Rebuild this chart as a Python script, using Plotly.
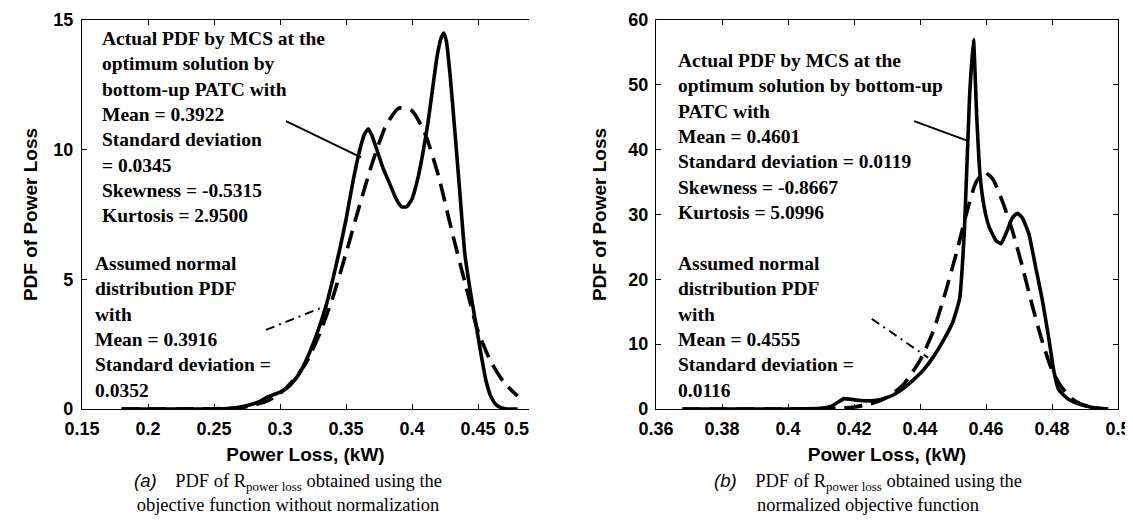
import plotly.graph_objects as go

# ---------------- data ----------------
# Panel (a): objective function without normalization
a_act_x = [0.18, 0.20, 0.22, 0.24, 0.26, 0.27, 0.28, 0.285, 0.29, 0.295, 0.30, 0.305,
           0.31, 0.315, 0.32, 0.325, 0.33, 0.335, 0.34, 0.345, 0.35, 0.355, 0.36, 0.364,
           0.367, 0.370, 0.374, 0.378, 0.383, 0.388, 0.392, 0.396, 0.40, 0.404, 0.408,
           0.412, 0.416, 0.419, 0.422, 0.424, 0.426, 0.429, 0.432, 0.436, 0.44, 0.444,
           0.448, 0.452, 0.456, 0.46, 0.464, 0.468, 0.472, 0.48]
a_act_y = [0, 0, 0, 0, 0.02, 0.08, 0.2, 0.3, 0.45, 0.55, 0.65, 0.8,
           1.05, 1.4, 1.9, 2.5, 3.2, 4.0, 5.0, 6.1, 7.3, 8.7, 9.9, 10.6,
           10.8, 10.5, 9.9, 9.3, 8.7, 8.1, 7.8, 7.8, 8.1, 8.8, 9.8,
           11.0, 12.5, 13.6, 14.3, 14.5, 14.2, 12.8, 11.0, 8.5, 6.0, 4.6,
           3.4, 2.2, 1.1, 0.45, 0.15, 0.04, 0.0, 0.0]

a_norm_x = [0.18, 0.22, 0.25, 0.27, 0.28, 0.29, 0.30, 0.31, 0.32, 0.33, 0.34, 0.35,
            0.36, 0.37, 0.38, 0.39, 0.40, 0.41, 0.42, 0.43, 0.44, 0.45, 0.46, 0.47, 0.48]
a_norm_y = [0, 0, 0.01, 0.05, 0.15, 0.3, 0.6, 1.1, 1.8, 2.9, 4.3, 6.0,
            7.8, 9.5, 10.9, 11.6, 11.5, 10.6, 9.0, 6.9, 4.9, 3.0, 1.8, 1.0, 0.5]

# Panel (b): normalized objective function
b_act_x = [0.368, 0.38, 0.39, 0.40, 0.41, 0.413, 0.415, 0.417, 0.419, 0.422, 0.426,
           0.429, 0.432, 0.435, 0.438, 0.441, 0.444, 0.447, 0.450, 0.452, 0.4535,
           0.455, 0.4562, 0.4572, 0.4582, 0.4595, 0.461, 0.463, 0.4645, 0.466, 0.468,
           0.4695, 0.471, 0.473, 0.475, 0.477, 0.479, 0.4805, 0.482, 0.485, 0.488,
           0.491, 0.494, 0.497]
b_act_y = [0, 0, 0, 0, 0.1, 0.4, 1.0, 1.6, 1.5, 1.3, 1.3,
           1.6, 2.2, 3.2, 4.5, 6.0, 8.0, 10.5, 13.5, 17, 28,
           48, 57, 45, 36, 31, 28, 26, 25.5, 27, 29.5,
           30.2, 29.5, 27, 22, 17, 11, 6, 3, 1.5, 0.8,
           0.4, 0.1, 0]

b_norm_x = [0.368, 0.40, 0.41, 0.415, 0.42, 0.425, 0.43, 0.435, 0.44, 0.444, 0.448,
            0.451, 0.454, 0.457, 0.4595, 0.462, 0.465, 0.468, 0.471, 0.474, 0.477,
            0.48, 0.483, 0.486, 0.489, 0.492, 0.497]
b_norm_y = [0, 0, 0.05, 0.1, 0.3, 0.8, 1.8, 3.8, 7.5, 12, 18.5,
            24, 30, 35, 36.5, 35.5, 32, 27.5, 22, 16, 10.5,
            6, 3.3, 1.6, 0.7, 0.25, 0]

# pointer lines (data coordinates)
a_ptr_act_x = [0.3045, 0.3614]
a_ptr_act_y = [11.1, 9.7]
a_ptr_norm_x = [0.2894, 0.336]
a_ptr_norm_y = [3.05, 4.0]
b_ptr_act_x = [0.4382, 0.4543]
b_ptr_act_y = [44.4, 41.4]
b_ptr_norm_x = [0.4254, 0.4425]
b_ptr_norm_y = [13.9, 7.9]

# tick labels
a_xticks = [0.15, 0.2, 0.25, 0.3, 0.35, 0.4, 0.45]
a_xticktext = ["0.15", "0.2", "0.25", "0.3", "0.35", "0.4", "0.45"]
a_yticks = [0, 5, 10, 15]
b_xticks = [0.36, 0.38, 0.40, 0.42, 0.44, 0.46, 0.48, 0.50]
b_xticktext = ["0.36", "0.38", "0.4", "0.42", "0.44", "0.46", "0.48", "0.5"]
b_yticks = [0, 10, 20, 30, 40, 50, 60]

a_text1 = ["Actual PDF by MCS at the", "optimum solution by", "bottom-up PATC with",
           "Mean = 0.3922", "Standard deviation", "= 0.0345", "Skewness = -0.5315",
           "Kurtosis = 2.9500"]
a_text2 = ["Assumed normal", "distribution PDF", "with", "Mean = 0.3916",
           "Standard deviation =", "0.0352"]
b_text1 = ["Actual PDF by MCS at the", "optimum solution by bottom-up", "PATC with",
           "Mean = 0.4601", "Standard deviation = 0.0119", "Skewness = -0.8667",
           "Kurtosis = 5.0996"]
b_text2 = ["Assumed normal", "distribution PDF", "with", "Mean = 0.4555",
           "Standard deviation =", "0.0116"]

# ---------------- figure ----------------
W, H = 1133, 520
SANS = "Liberation Sans, Arial, sans-serif"
SERIF = "Liberation Serif, Times New Roman, serif"

def px(x):
    return x / W

def py(y):
    return 1 - y / H

fig = go.Figure()
curve_w = 3.6
dash = "18px,9px"
dashdot = "9px,5px,2px,5px"

def curve(x, y, xa, ya, width, dsh=None, smooth=None):
    line = dict(color="black", width=width)
    if dsh:
        line["dash"] = dsh
    if smooth:
        line["shape"] = "spline"
        line["smoothing"] = smooth
    fig.add_trace(go.Scatter(x=x, y=y, mode="lines", xaxis=xa, yaxis=ya,
                             line=line, showlegend=False, hoverinfo="skip"))

curve(a_act_x, a_act_y, "x", "y", curve_w, smooth=0.5)
curve(a_norm_x, a_norm_y, "x", "y", curve_w, dsh=dash, smooth=0.6)
curve(a_ptr_act_x, a_ptr_act_y, "x", "y", 2)
curve(a_ptr_norm_x, a_ptr_norm_y, "x", "y", 2, dsh=dashdot)

curve(b_act_x, b_act_y, "x2", "y2", curve_w, smooth=0.4)
curve(b_norm_x, b_norm_y, "x2", "y2", curve_w, dsh=dash, smooth=0.6)
curve(b_ptr_act_x, b_ptr_act_y, "x2", "y2", 2)
curve(b_ptr_norm_x, b_ptr_norm_y, "x2", "y2", 2, dsh=dashdot)

tickfont = dict(family=SANS, size=18, color="black", weight="bold")
titlefont = dict(family=SANS, size=19, color="black", weight="bold")
ydom = [py(401), py(12)]
common = dict(showline=True, linecolor="black", linewidth=1.3, ticks="inside", ticklen=5,
              tickcolor="black", tickwidth=1.2, showgrid=False, zeroline=False,
              tickfont=tickfont, automargin=False)

fig.update_layout(
    width=W, height=H, margin=dict(l=0, r=0, t=0, b=0),
    paper_bgcolor="white", plot_bgcolor="white",
    xaxis=dict(domain=[px(74), px(521)], range=[0.15, 0.15 + 447 / 1320],
               tickvals=a_xticks, ticktext=a_xticktext, mirror="ticks", anchor="y",
               ticklabelstandoff=3,
               title=dict(text="Power Loss, (kW)", font=titlefont, standoff=9), **common),
    yaxis=dict(domain=ydom, range=[0, 15], tickvals=a_yticks, anchor="x", mirror=False,
               ticklabelstandoff=4,
               title=dict(text="PDF of Power Loss", font=titlefont, standoff=10), **common),
    xaxis2=dict(domain=[px(648), px(1110)], range=[0.36, 0.5],
                tickvals=b_xticks, ticktext=b_xticktext, mirror="ticks", anchor="y2",
                ticklabelstandoff=3,
                title=dict(text="Power Loss, (kW)", font=titlefont, standoff=9), **common),
    yaxis2=dict(domain=ydom, range=[0, 60], tickvals=b_yticks, anchor="x2", mirror="ticks",
                ticklabelstandoff=3,
                title=dict(text="PDF of Power Loss", font=titlefont, standoff=16), **common),
)

ann = []
# the "0.5" label at the cut right edge of panel (a)
ann.append(dict(x=px(508), y=py(421), xref="paper", yref="paper", text="0.5",
                showarrow=False, font=tickfont, xanchor="center", yanchor="middle"))

txtfont = dict(family=SERIF, size=19.5, color="black")

def block(lines, x, y_top):
    ann.append(dict(x=px(x), y=py(y_top), xref="paper", yref="paper",
                    text="<b>" + "<br>".join(lines) + "</b>", showarrow=False,
                    align="left", xanchor="left", yanchor="top", font=txtfont))

block(a_text1, 92, 18)
block(a_text2, 85, 243)
block(b_text1, 668, 40)
block(b_text2, 668, 243)

capfont = dict(family=SERIF, size=18.5, color="black")
def caption(letter, line1, line2, xc):
    t = ("<span style='font-family:Liberation Sans'><i>(" + letter + ")</i></span>"
         "&nbsp;&nbsp;&nbsp; PDF of R<sub>power loss</sub> " + line1 + "<br>" + line2)
    ann.append(dict(x=px(xc), y=py(460), xref="paper", yref="paper", text=t,
                    showarrow=False, align="center", xanchor="center", yanchor="top",
                    font=capfont))

caption("a", "obtained using the", "objective function without normalization", 280)
caption("b", "obtained using the", "normalized objective function", 860)

fig.update_layout(annotations=ann)
fig.write_html("out.html")
